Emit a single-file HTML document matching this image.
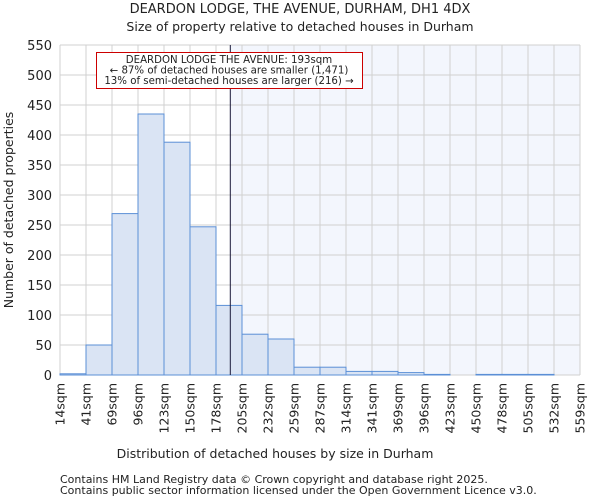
<!DOCTYPE html>
<html><head><meta charset="utf-8"><style>
body{margin:0;background:#fff;font-family:"DejaVu Sans","Liberation Sans",sans-serif;}
svg text{font-family:"DejaVu Sans","Liberation Sans",sans-serif;fill:#222;}
</style></head><body>
<svg id="c" width="600" height="500">
<text x="300" y="13" text-anchor="middle" font-size="13">DEARDON LODGE, THE AVENUE, DURHAM, DH1 4DX</text>
<text x="300" y="31" text-anchor="middle" font-size="12.5">Size of property relative to detached houses in Durham</text>
<g id="plot"></g>
<text x="275" y="458" text-anchor="middle" font-size="12.5">Distribution of detached houses by size in Durham</text>
<text transform="translate(13,210) rotate(-90)" text-anchor="middle" font-size="12.5">Number of detached properties</text>
<text x="60" y="483" font-size="11">Contains HM Land Registry data © Crown copyright and database right 2025.</text>
<text x="60" y="494" font-size="11">Contains public sector information licensed under the Open Government Licence v3.0.</text>
</svg>
<script>
const tickLabels=["14sqm","41sqm","69sqm","96sqm","123sqm","150sqm","178sqm","205sqm","232sqm","259sqm","287sqm","314sqm","341sqm","369sqm","396sqm","423sqm","450sqm","478sqm","505sqm","532sqm","559sqm"];
const counts=[2,50,269,435,388,247,116,68,60,13,13,6,6,4,1,0,1,1,1,0];
const yTicks=[0,50,100,150,200,250,300,350,400,450,500,550];
const propertyIndex=6.55;
const L=60,R=580,T=45,B=375,yMax=550;
const n=counts.length,bw=(R-L)/n;
const xs=i=>L+i*bw, ys=v=>B-(v/yMax)*(B-T);
const g=document.getElementById('plot');const NS='http://www.w3.org/2000/svg';
function mk(t,a){const e=document.createElementNS(NS,t);for(const k in a)e.setAttribute(k,a[k]);g.appendChild(e);return e;}
const px=xs(propertyIndex);
let e=mk('rect',{x:px,y:T,width:R-px,height:B-T,fill:'#f3f6fd'});


yTicks.forEach(v=>{let l=mk('line',{x1:L,x2:R,y1:ys(v),y2:ys(v),stroke:'#d0d0d0'});


let t=mk('text',{x:L-8,y:ys(v)+5,'text-anchor':'end','font-size':'13'});t.textContent=v;

});
tickLabels.forEach((s,i)=>{let l=mk('line',{x1:xs(i),x2:xs(i),y1:T,y2:B,stroke:'#d0d0d0'});


let t=mk('text',{transform:`translate(${xs(i)+4.5},${B+8}) rotate(-90)`,'text-anchor':'end','font-size':'12.5'});t.textContent=s;

});
counts.forEach((v,i)=>{if(v<=0)return;let r=mk('rect',{x:xs(i),y:ys(v),width:bw,height:B-ys(v),fill:'#dae4f4',stroke:'#5b8fd6','stroke-width':1});

});
e=mk('line',{x1:px,x2:px,y1:T,y2:B,stroke:'#1a1a3a','stroke-width':1});


e=mk('rect',{x:96.5,y:52.5,width:266,height:36,fill:'#fff',stroke:'#c00'});


["DEARDON LODGE THE AVENUE: 193sqm","← 87% of detached houses are smaller (1,471)","13% of semi-detached houses are larger (216) →"].forEach((s,i)=>{let t=mk('text',{x:229,y:63+i*10.5,'text-anchor':'middle','font-size':'10.2'});t.textContent=s;

});
</script>
</body></html>
